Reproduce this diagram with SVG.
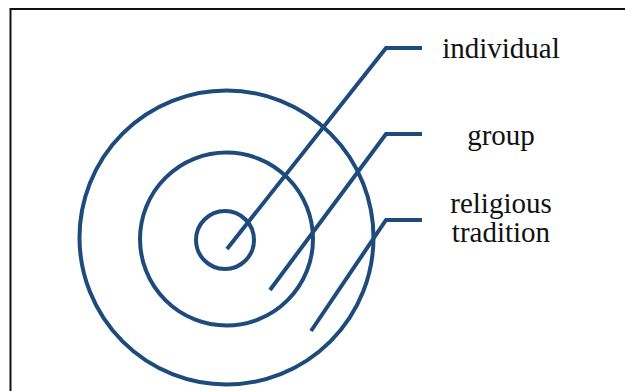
<svg xmlns="http://www.w3.org/2000/svg" width="625" height="391" viewBox="0 0 625 391">
  <style>
    .ring { fill: none; stroke: #1f4b7c; stroke-width: 4; }
    .leader { fill: none; stroke: #1f4b7c; stroke-width: 4; stroke-linecap: butt; stroke-linejoin: miter; }
    .label { font-family: "Liberation Serif", "Times New Roman", serif; font-size: 29px; fill: #111; text-anchor: middle; }
  </style>
  <rect x="-5" y="0" width="640" height="400" fill="#ffffff"/>
  <path d="M10.5 400 V9 H630" fill="none" stroke="#111" stroke-width="2"/>
  <g id="outer-circle"><circle class="ring" cx="226.5" cy="237.5" r="147"/></g>
  <g id="middle-circle"><circle class="ring" cx="226.5" cy="239" r="86.5"/></g>
  <g id="inner-circle"><circle class="ring" cx="225" cy="240" r="29"/></g>
  <g id="connectors">
    <path class="leader" d="M227 249 L386 48 H422"/>
    <path class="leader" d="M270 290 L386 134 H422"/>
    <path class="leader" d="M311 331 L386 220 H422"/>
  </g>
  <g id="label-individual"><text class="label" x="501" y="58">individual</text></g>
  <g id="label-group"><text class="label" x="501" y="145">group</text></g>
  <g id="label-religious-tradition"><text class="label" x="501" y="213">religious<tspan x="501" y="242">tradition</tspan></text></g>
</svg>
